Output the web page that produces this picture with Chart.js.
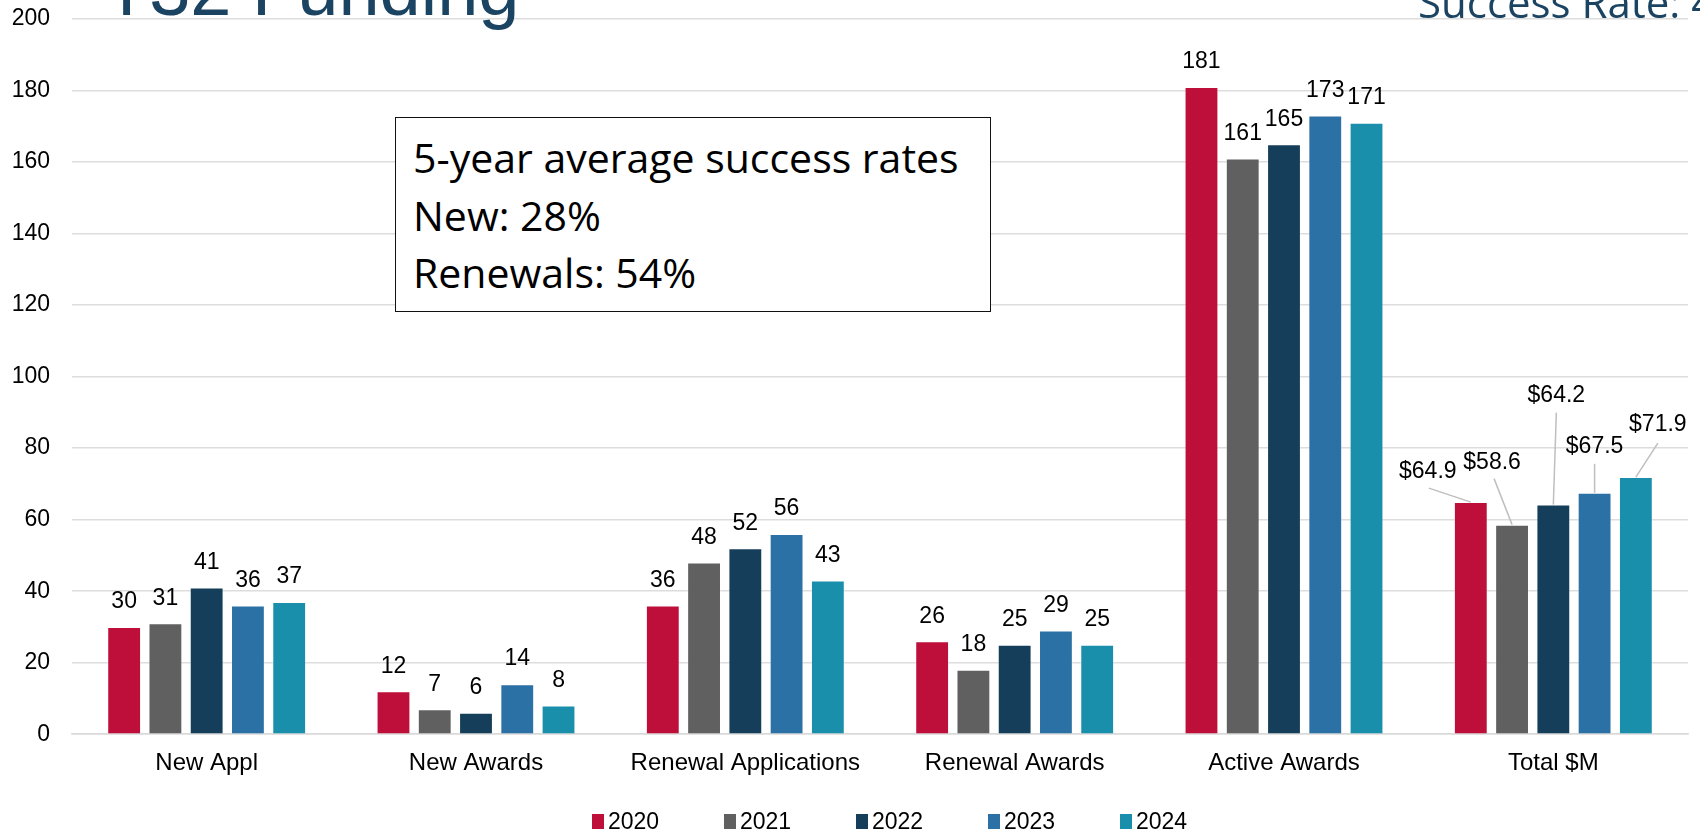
<!DOCTYPE html>
<html>
<head>
<meta charset="utf-8">
<title>T32 Funding</title>
<script src="https://cdn.jsdelivr.net/npm/chart.js@4.4.1/dist/chart.umd.min.js"></script>
<style>
  html, body { margin: 0; padding: 0; background: #fff; }
  #wrap { position: relative; width: 1700px; height: 833px; overflow: hidden; }
  #fundingChart { position: absolute; left: 0; top: 0; }
  .head { position: absolute; white-space: nowrap; color: #1B4462; line-height: 1; }
  #title { left: 104px; top: -53px; font: 74px "Liberation Sans", Arial, sans-serif; }
  #rate { left: 1418px; top: -27px; font: 42px "Open Sans", sans-serif; }
  #note {
    position: absolute; left: 395px; top: 117px; width: 596px; height: 195px;
    box-sizing: border-box; border: 1.5px solid #111; background: #fff;
    padding: 11px 0 0 17px; font: 41px/57.5px "Open Sans", sans-serif; color: #000;
  }
  #legend { position: absolute; left: 592px; top: 808px; height: 26px; display: flex; }
  .item { width: 132px; display: flex; align-items: center; font: 23px "Liberation Sans", Arial, sans-serif; color: #000; }
  .swatch { width: 12px; height: 15px; margin-right: 4px; }
</style>
</head>
<body>
<div id="wrap">
  <canvas id="fundingChart"></canvas>
  <div class="head" id="title">T32 Funding</div>
  <div class="head" id="rate">Success Rate: 4</div>
  <div id="note">5-year average success rates<br>New: 28%<br>Renewals: 54%</div>
  <div id="legend"></div>
</div>
<script>
// categories and yearly values
const categories = ['New Appl', 'New Awards', 'Renewal Applications', 'Renewal Awards', 'Active Awards', 'Total $M'];
const years = ['2020', '2021', '2022', '2023', '2024'];
const y2020 = [30, 12, 36, 26, 181, 64.9];
const y2021 = [31, 7, 48, 18, 161, 58.6];
const y2022 = [41, 6, 52, 25, 165, 64.2];
const y2023 = [36, 14, 56, 29, 173, 67.5];
const y2024 = [37, 8, 43, 25, 171, 71.9];

const colors = ['#BE0F3B', '#606060', '#143E59', '#2C71A5', '#1A8FAB'];
const seriesData = [y2020, y2021, y2022, y2023, y2024];

// where the Total $M labels sit, relative to the top of their bar
const totalLeaders = [
  { dx: -43, dy: -30, lx: -42, ly: -14 },
  { dx: -20, dy: -62, lx: -18, ly: -46 },
  { dx: 3, dy: -109, lx: 3, ly: -92 },
  { dx: 0, dy: -46, lx: 0, ly: -29 },
  { dx: 22, dy: -52, lx: 22, ly: -34 }
];

const FONT = '"Liberation Sans", Arial, sans-serif';

const valueLabels = {
  id: 'valueLabels',
  afterDatasetsDraw(chart) {
    const ctx = chart.ctx;
    ctx.save();
    ctx.font = '23px ' + FONT;
    ctx.fillStyle = '#000';
    ctx.textAlign = 'center';
    ctx.textBaseline = 'middle';
    chart.data.datasets.forEach((ds, i) => {
      chart.getDatasetMeta(i).data.forEach((bar, j) => {
        const v = ds.data[j];
        if (categories[j] === 'Total $M') {
          const o = totalLeaders[i];
          ctx.strokeStyle = '#BFBFBF';
          ctx.lineWidth = 1.5;
          ctx.beginPath();
          ctx.moveTo(bar.x + o.lx, bar.y + o.ly);
          ctx.lineTo(bar.x, bar.y);
          ctx.stroke();
          ctx.fillText('$' + v.toFixed(1), bar.x + o.dx, bar.y + o.dy);
        } else {
          ctx.fillText(String(v), bar.x, bar.y - 25);
        }
      });
    });
    ctx.restore();
  }
};

const data = {
  labels: categories,
  datasets: years.map((y, i) => ({
    label: y,
    data: seriesData[i],
    backgroundColor: colors[i],
    borderColor: 'rgba(255,255,255,0.25)',
    borderWidth: 1,
    categoryPercentage: 0.766,
    barPercentage: 0.82
  }))
};

const config = {
  type: 'bar',
  data: data,
  options: {
    responsive: false,
    animation: false,
    layout: { padding: { left: 0, right: 12, top: 19, bottom: 40 } },
    plugins: {
      legend: { display: false },
      tooltip: { enabled: false }
    },
    scales: {
      x: {
        grid: { display: false, drawTicks: false },
        border: { color: '#D9D9D9', width: 1.5 },
        ticks: { color: '#000', padding: 15, font: { family: FONT, size: 24 } }
      },
      y: {
        min: 0,
        max: 200,
        afterFit(scale) {
          scale.width = 72;
          scale.paddingTop = 0;
        },
        ticks: { stepSize: 20, color: '#000', padding: 22, font: { family: FONT, size: 23 } },
        grid: { color: '#DDDDDD', lineWidth: 1.5, drawTicks: false },
        border: { display: false }
      }
    }
  },
  plugins: [valueLabels]
};

const canvas = document.getElementById('fundingChart');
canvas.width = 1700;
canvas.height = 833;
const myChart = new Chart(canvas, config);

// legend built from the datasets
const legendBox = document.getElementById('legend');
data.datasets.forEach(ds => {
  const item = document.createElement('div');
  item.className = 'item';
  const sw = document.createElement('span');
  sw.className = 'swatch';
  sw.style.background = ds.backgroundColor;
  item.appendChild(sw);
  item.appendChild(document.createTextNode(ds.label));
  legendBox.appendChild(item);
});
</script>
</body>
</html>
